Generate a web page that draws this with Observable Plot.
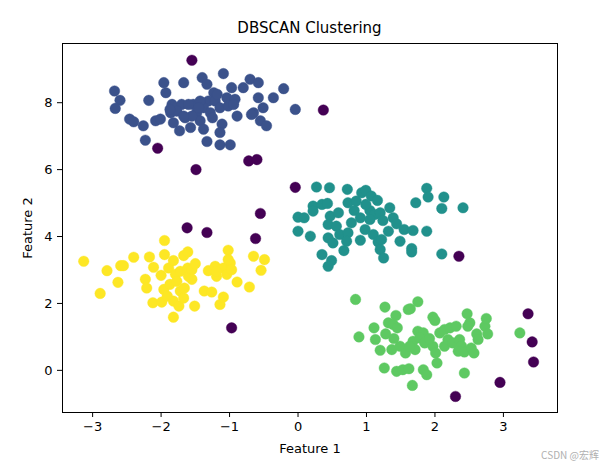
<!DOCTYPE html>
<html><head><meta charset="utf-8">
<script src="https://cdn.jsdelivr.net/npm/d3@7"></script>
<script src="https://cdn.jsdelivr.net/npm/@observablehq/plot@0.6"></script>
<style>
body{margin:0;background:#fff;font-family:"DejaVu Sans",sans-serif;}
#wrap{position:relative;width:605px;height:466px;}
#title{position:absolute;left:62px;width:495px;top:19px;text-align:center;font-size:15px;color:#000;}
#wm{position:absolute;right:6px;top:447px;font-size:10px;color:#b0b0b0;font-family:"Noto Sans CJK SC","DejaVu Sans",sans-serif;}
</style></head>
<body><div id="wrap"><div id="title">DBSCAN Clustering</div><div id="wm">CSDN @宏辉</div></div>
<script>
const title = "DBSCAN Clustering";
const xLabel = "Feature 1";
const yLabel = "Feature 2";
const xTicks = [-3,-2,-1,0,1,2,3];
const yTicks = [0,2,4,6,8];
const labels = [-1,0,1,2,3];
const colors = ["#440154","#3b528b","#21918c","#5ec962","#fde725"];

const noise = [[-1.55,9.27],[0.37,7.78],[-2.05,6.64],[-0.72,6.26],[-0.60,6.30],[-1.49,6.00],[-0.04,5.47],[-0.55,4.69],[-1.62,4.26],[-1.33,4.12],[-0.62,3.94],[-0.97,1.27],[2.35,3.41],[3.36,1.69],[3.42,0.85],[3.44,0.25],[2.95,-0.36],[2.30,-0.78]];

const cluster0 = [[-2.68,8.35],[-2.60,8.07],[-2.67,7.83],[-2.46,7.51],[-2.40,7.43],[-2.26,7.31],[-2.23,6.88],[-2.18,8.07],[-2.08,7.46],[-2.01,7.51],[-1.96,8.60],[-1.93,8.30],[-1.84,7.95],[-1.86,7.70],[-1.82,7.40],[-1.73,7.16],[-1.67,8.60],[-1.70,7.95],[-1.65,7.55],[-1.57,7.26],[-1.53,7.95],[-1.48,7.70],[-1.43,7.46],[-1.40,8.75],[-1.33,8.55],[-1.38,7.21],[-1.33,6.84],[-1.23,8.30],[-1.31,8.05],[-1.38,7.85],[-1.21,8.05],[-1.14,7.85],[-1.09,8.87],[-1.11,7.36],[-1.14,7.11],[-1.14,6.74],[-0.97,8.45],[-1.04,8.15],[-1.02,7.90],[-0.99,6.74],[-0.92,8.10],[-0.89,7.60],[-0.80,8.45],[-0.70,8.70],[-0.58,8.60],[-0.58,8.15],[-0.65,7.70],[-0.51,7.85],[-0.55,7.46],[-0.46,7.31],[-0.36,8.15],[-0.21,8.42],[-0.04,7.80],[-0.94,7.95],[-1.55,7.60],[-1.77,7.75],[-1.28,7.70],[-1.43,8.05],[-1.60,7.95],[-1.87,7.80],[-1.67,7.60],[-1.18,8.25],[-0.68,7.65],[-1.45,7.85],[-1.25,7.55]];

const cluster1 = [[0.27,5.48],[0.46,5.46],[0.72,5.41],[0.93,5.31],[0.99,5.38],[1.07,5.21],[1.16,5.08],[0.73,5.01],[0.22,4.91],[0.35,4.96],[0.43,4.99],[0.22,4.76],[0.00,4.58],[0.09,4.56],[0.00,4.16],[0.18,4.01],[0.47,4.61],[0.59,4.71],[0.44,4.36],[0.56,4.31],[0.44,3.96],[0.51,3.81],[0.61,4.06],[0.73,4.11],[0.78,4.41],[0.71,3.86],[0.67,3.58],[0.35,3.46],[0.49,3.28],[0.44,3.11],[0.82,4.78],[0.91,4.56],[1.05,4.78],[1.12,4.66],[1.20,4.71],[1.05,4.51],[0.98,4.21],[1.10,4.06],[0.91,3.89],[1.17,3.84],[1.22,3.91],[1.20,3.61],[1.25,3.36],[1.34,4.86],[1.24,4.48],[1.39,4.56],[1.44,4.38],[1.32,4.16],[1.49,3.86],[1.55,4.21],[1.68,4.18],[1.66,3.64],[1.66,3.54],[1.72,5.01],[1.88,5.44],[1.90,5.18],[1.88,4.16],[2.13,5.18],[2.10,4.84],[2.41,4.86],[2.10,3.48],[0.85,5.06],[0.99,4.96]];

const cluster2 = [[0.84,2.12],[0.89,1.00],[1.11,1.27],[1.13,0.92],[1.20,0.60],[1.26,0.07],[1.27,1.89],[1.28,1.09],[1.32,1.42],[1.39,1.37],[1.43,1.64],[1.40,0.95],[1.37,0.62],[1.45,1.27],[1.49,0.72],[1.57,0.52],[1.44,-0.03],[1.53,0.02],[1.62,0.05],[1.67,-0.45],[1.61,1.82],[1.64,1.84],[1.75,2.05],[1.68,0.87],[1.71,0.62],[1.75,1.17],[1.83,1.12],[1.78,0.97],[1.85,0.82],[1.83,0.02],[1.88,-0.13],[1.97,1.59],[2.00,1.49],[1.97,0.72],[2.01,0.52],[2.03,0.22],[2.07,1.12],[2.14,1.22],[2.22,1.27],[2.31,1.32],[2.14,0.72],[2.19,0.92],[2.26,0.82],[2.36,0.92],[2.39,0.72],[2.34,0.57],[2.43,0.55],[2.43,-0.08],[2.47,1.69],[2.51,1.42],[2.48,1.32],[2.53,0.67],[2.57,0.52],[2.61,1.09],[2.63,0.92],[2.73,1.32],[2.75,1.55],[2.77,1.09],[3.24,1.12],[1.92,0.95],[1.63,0.72]];

const cluster3 = [[-3.13,3.26],[-2.89,2.30],[-2.79,2.98],[-2.63,2.63],[-2.59,3.13],[-2.55,3.13],[-2.40,3.38],[-2.23,2.72],[-2.21,2.46],[-2.17,3.39],[-2.11,3.08],[-2.12,2.02],[-2.00,2.84],[-1.99,2.04],[-1.95,3.88],[-1.95,3.46],[-1.96,2.42],[-1.89,3.06],[-1.87,2.57],[-1.91,2.22],[-1.82,3.28],[-1.79,2.87],[-1.77,2.66],[-1.82,2.07],[-1.82,1.59],[-1.74,1.92],[-1.72,2.96],[-1.72,2.37],[-1.67,2.16],[-1.67,3.43],[-1.61,3.54],[-1.66,2.46],[-1.61,3.06],[-1.60,2.81],[-1.55,2.72],[-1.55,3.01],[-1.50,3.19],[-1.51,1.92],[-1.37,2.37],[-1.31,2.98],[-1.26,2.34],[-1.21,3.11],[-1.19,2.81],[-1.14,1.97],[-1.09,2.19],[-1.09,3.06],[-1.04,2.87],[-1.02,3.59],[-0.99,3.21],[-0.97,3.01],[-0.89,2.64],[-0.71,2.49],[-0.65,3.41],[-0.49,3.31],[-0.54,2.99],[-1.19,2.96],[-1.02,3.31]];

const clusters = [noise, cluster0, cluster1, cluster2, cluster3];
const data = clusters.flatMap((pts, i) => pts.map(([x, y]) => ({x, y, label: labels[i]})));

const chart = Plot.plot({
  width: 605, height: 466,
  marginLeft: 62, marginRight: 48, marginTop: 43, marginBottom: 54,
  style: {fontFamily: "DejaVu Sans, sans-serif", fontSize: "13px", color: "#000", background: "#fff"},
  x: {domain: [-3.44, 3.79], ticks: xTicks, tickSize: 5, tickPadding: 4, label: xLabel, labelAnchor: "center", labelArrow: "none", labelOffset: 40},
  y: {domain: [-1.26, 9.77], ticks: yTicks, tickSize: 5, tickPadding: 5, label: yLabel, labelAnchor: "center", labelArrow: "none", labelOffset: 40},
  color: {domain: labels, range: colors},
  marks: [
    Plot.dot(data, {x: "x", y: "y", fill: "label", r: 5.3, stroke: "label", strokeWidth: 0.4}),
    Plot.frame({stroke: "#000", strokeWidth: 1})
  ]
});
document.getElementById("wrap").prepend(chart);
chart.style.position = "absolute"; chart.style.left = "0"; chart.style.top = "0";
</script>
</body></html>
